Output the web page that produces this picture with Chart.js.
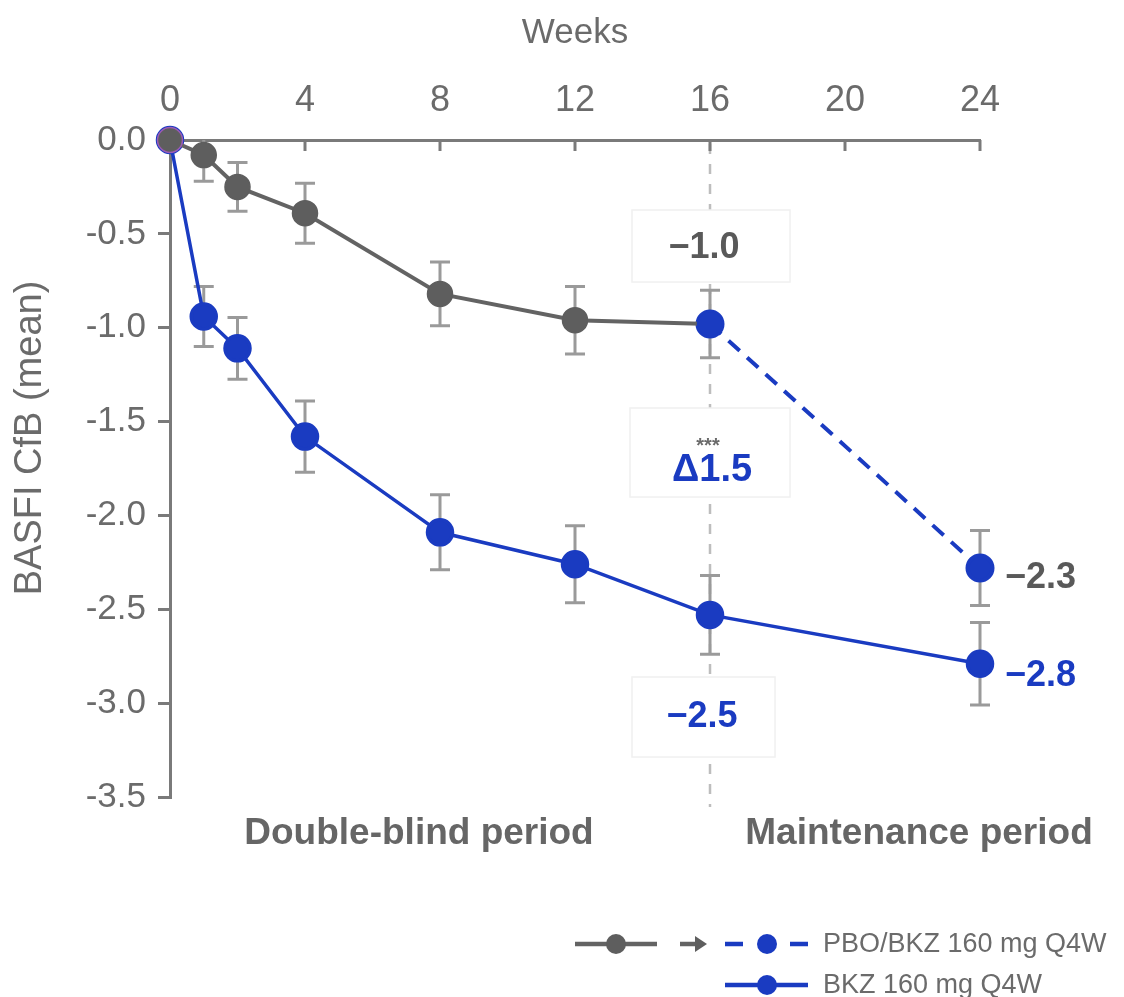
<!DOCTYPE html>
<html>
<head>
<meta charset="utf-8">
<script src="https://cdn.jsdelivr.net/npm/chart.js@4.4.1/dist/chart.umd.min.js"></script>
<style>
  html, body { margin: 0; padding: 0; background: #fff; }
  canvas { display: block; }
</style>
</head>
<body>
<canvas id="c" width="1124" height="997"></canvas>
<script>
// Week axis ticks and study visits
const weekTicks = [0, 4, 8, 12, 16, 20, 24];
const pboWeeks = [0, 1, 2, 4, 8, 12, 16];
const switchWeeks = [16, 24];
const bkzWeeks = [0, 1, 2, 4, 8, 12, 16, 24];

// Mean change from baseline in BASFI
const pboMean = [0, -0.08, -0.25, -0.39, -0.82, -0.96, -0.98];
const switchMean = [-0.98, -2.28];
const bkzMean = [0, -0.94, -1.11, -1.58, -2.09, -2.26, -2.53, -2.79];

// Half-length of the error bars
const pboErr = [0, 0.14, 0.13, 0.16, 0.17, 0.18, 0.18];
const switchErr = [null, 0.20];
const bkzErr = [0, 0.16, 0.165, 0.19, 0.20, 0.205, 0.21, 0.22];

const yTicks = [0, -0.5, -1.0, -1.5, -2.0, -2.5, -3.0, -3.5];

const seriesNames = ['PBO/BKZ 160 mg Q4W', 'BKZ 160 mg Q4W'];
const periodNames = ['Double-blind period', 'Maintenance period'];
const yTitle = 'BASFI CfB (mean)';

const BLUE = '#1a3bc1';
const GREY_LINE = '#636363';
const GREY_PT = '#5e5e5e';
const AXIS = '#7a7a7a';
const TXT = '#6b6b6b';
const FONT = '"Liberation Sans", Arial, Helvetica, sans-serif';

const toPts = (xs, ys) => xs.map((x, i) => ({ x, y: ys[i] }));
const fmt = v => (v < 0 ? '\u2212' : '') + Math.abs(v).toFixed(1);

const pboPointBg = pboWeeks.map((w, i) => i === pboWeeks.length - 1 ? BLUE : GREY_PT);
const pboPointBorder = pboWeeks.map((w, i) => i === 0 ? '#9c5bb5' : (i === pboWeeks.length - 1 ? BLUE : GREY_PT));

const errorBars = {
  id: 'errorBars',
  beforeDatasetsDraw(chart) {
    const { ctx, chartArea: ca, scales: { x, y } } = chart;
    // Week 16 divider between the two periods
    const x16 = x.getPixelForValue(16);
    ctx.save();
    ctx.strokeStyle = '#bdbdbd';
    ctx.lineWidth = 2.5;
    ctx.setLineDash([10, 10]);
    ctx.beginPath();
    ctx.moveTo(x16, ca.top + 4);
    ctx.lineTo(x16, ca.bottom + 10);
    ctx.stroke();
    ctx.setLineDash([]);

    // Faint label boxes that interrupt the divider
    const boxes = [
      [x16 - 78, 210, 158, 72],
      [x16 - 80, 408, 160, 89],
      [x16 - 78, 677, 143, 80]
    ];
    boxes.forEach(([bx, by, bw, bh]) => {
      ctx.fillStyle = '#ffffff';
      ctx.fillRect(bx, by, bw, bh);
      ctx.strokeStyle = '#f0f0f0';
      ctx.lineWidth = 1.5;
      ctx.strokeRect(bx, by, bw, bh);
    });

    // Inward tick marks on the top week axis
    ctx.strokeStyle = AXIS;
    ctx.lineWidth = 3;
    weekTicks.forEach(w => {
      if (w === 0) return;
      const px = x.getPixelForValue(w);
      ctx.beginPath();
      ctx.moveTo(px, ca.top);
      ctx.lineTo(px, ca.top + 11);
      ctx.stroke();
    });

    // Error bars, clipped to the plot area
    ctx.beginPath();
    ctx.rect(ca.left, ca.top, ca.right - ca.left + 30, ca.bottom - ca.top);
    ctx.clip();
    ctx.strokeStyle = '#9a9a9a';
    ctx.lineWidth = 3;
    const draw = (xs, ys, es) => {
      xs.forEach((w, i) => {
        const e = es[i];
        if (!e) return;
        const px = x.getPixelForValue(w);
        const top = y.getPixelForValue(ys[i] + e);
        const bot = y.getPixelForValue(ys[i] - e);
        ctx.beginPath();
        ctx.moveTo(px, top); ctx.lineTo(px, bot);
        ctx.moveTo(px - 10, top); ctx.lineTo(px + 10, top);
        ctx.moveTo(px - 10, bot); ctx.lineTo(px + 10, bot);
        ctx.stroke();
      });
    };
    draw(pboWeeks, pboMean, pboErr);
    draw(switchWeeks, switchMean, switchErr);
    draw(bkzWeeks, bkzMean, bkzErr);
    ctx.restore();
  },
  afterDatasetsDraw(chart) {
    const { ctx, chartArea: ca, scales: { x, y } } = chart;
    const x16 = x.getPixelForValue(16);
    const x24 = x.getPixelForValue(24);
    ctx.save();
    ctx.textBaseline = 'middle';

    // Vertical axis title
    ctx.save();
    ctx.translate(31, 438);
    ctx.rotate(-Math.PI / 2);
    ctx.textAlign = 'center';
    ctx.font = '38px ' + FONT;
    ctx.fillStyle = TXT;
    ctx.fillText(yTitle, 0, 0);
    ctx.restore();

    // Week 16 values and difference
    const p16 = pboMean[pboMean.length - 1];
    const b16 = bkzMean[bkzWeeks.indexOf(16)];
    const delta = Math.abs(Number(p16.toFixed(1)) - Number(b16.toFixed(1)));
    ctx.textAlign = 'center';
    ctx.font = 'bold 36px ' + FONT;
    ctx.fillStyle = '#595959';
    ctx.fillText(fmt(p16), x16 - 6, 248);
    ctx.font = 'bold 20px ' + FONT;
    ctx.fillStyle = '#6b6b6b';
    ctx.fillText('***', x16 - 2, 446);
    ctx.font = 'bold 38px ' + FONT;
    ctx.fillStyle = BLUE;
    ctx.fillText('\u0394' + delta.toFixed(1), x16 + 2, 471);
    ctx.font = 'bold 36px ' + FONT;
    ctx.fillText(fmt(b16), x16 - 8, 717);

    // Week 24 values
    ctx.textAlign = 'left';
    ctx.fillStyle = '#595959';
    ctx.fillText(fmt(switchMean[1]), x24 + 25, y.getPixelForValue(switchMean[1]) + 10);
    ctx.fillStyle = BLUE;
    ctx.fillText(fmt(bkzMean[bkzMean.length - 1]), x24 + 25, y.getPixelForValue(bkzMean[bkzMean.length - 1]) + 12);

    // Study period captions
    ctx.textAlign = 'center';
    ctx.font = 'bold 37px ' + FONT;
    ctx.fillStyle = '#666666';
    ctx.fillText(periodNames[0], (x.getPixelForValue(0) + x16) / 2 - 21, ca.bottom + 37);
    ctx.fillText(periodNames[1], (x16 + x24) / 2 + 74, ca.bottom + 37);

    // Legend
    const r1 = 944, r2 = 985;
    ctx.lineWidth = 4.5;
    ctx.strokeStyle = GREY_LINE;
    ctx.beginPath(); ctx.moveTo(575, r1); ctx.lineTo(657, r1); ctx.stroke();
    ctx.fillStyle = GREY_PT;
    ctx.beginPath(); ctx.arc(616, r1, 10, 0, Math.PI * 2); ctx.fill();
    ctx.beginPath(); ctx.moveTo(680, r1); ctx.lineTo(697, r1); ctx.stroke();
    ctx.beginPath(); ctx.moveTo(695, r1 - 8); ctx.lineTo(707, r1); ctx.lineTo(695, r1 + 8); ctx.closePath(); ctx.fill();
    ctx.strokeStyle = BLUE;
    ctx.fillStyle = BLUE;
    ctx.beginPath(); ctx.moveTo(725, r1); ctx.lineTo(743, r1); ctx.moveTo(790, r1); ctx.lineTo(808, r1); ctx.stroke();
    ctx.beginPath(); ctx.arc(767, r1, 10, 0, Math.PI * 2); ctx.fill();
    ctx.beginPath(); ctx.moveTo(725, r2); ctx.lineTo(808, r2); ctx.stroke();
    ctx.beginPath(); ctx.arc(767, r2, 10, 0, Math.PI * 2); ctx.fill();
    ctx.textAlign = 'left';
    ctx.font = '27px ' + FONT;
    ctx.fillStyle = TXT;
    ctx.fillText(seriesNames[0], 823, r1 + 1);
    ctx.fillText(seriesNames[1], 823, r2 + 1);
    ctx.restore();
  }
};

new Chart(document.getElementById('c'), {
  type: 'scatter',
  data: {
    datasets: [
      {
        label: 'PBO',
        data: toPts(pboWeeks, pboMean),
        showLine: true,
        borderColor: GREY_LINE,
        borderWidth: 4,
        pointRadius: 12.5,
        pointBackgroundColor: pboPointBg,
        pointBorderColor: pboPointBorder,
        pointBorderWidth: 1.5,
        tension: 0,
        clip: false
      },
      {
        label: seriesNames[0],
        data: toPts(switchWeeks, switchMean),
        showLine: true,
        borderColor: BLUE,
        borderWidth: 4,
        borderDash: [15, 10],
        pointRadius: 12.5,
        pointBackgroundColor: BLUE,
        pointBorderColor: BLUE,
        tension: 0,
        clip: false
      },
      {
        label: seriesNames[1],
        data: toPts(bkzWeeks, bkzMean),
        showLine: true,
        borderColor: BLUE,
        borderWidth: 3.5,
        pointRadius: 12.5,
        pointBackgroundColor: BLUE,
        pointBorderColor: BLUE,
        tension: 0,
        clip: false
      }
    ]
  },
  options: {
    responsive: false,
    animation: false,
    events: [],
    layout: { padding: { left: 0, top: 0, right: 144, bottom: 200 } },
    plugins: { legend: { display: false }, tooltip: { enabled: false } },
    scales: {
      x: {
        type: 'linear',
        position: 'top',
        min: 0,
        max: 24,
        afterBuildTicks: s => { s.ticks = weekTicks.map(v => ({ value: v })); },
        ticks: { font: { size: 36, family: FONT }, color: TXT, padding: 9, callback: v => String(v) },
        grid: { display: false },
        border: { display: true, color: AXIS, width: 3 },
        title: { display: true, text: 'Weeks', font: { size: 35, family: FONT }, color: TXT, padding: { top: 12, bottom: 4 } },
        afterFit: s => { s.height = 140; }
      },
      y: {
        min: -3.5,
        max: 0,
        afterBuildTicks: s => { s.ticks = yTicks.map(v => ({ value: v })); },
        ticks: { font: { size: 35, family: FONT }, color: TXT, padding: 12, callback: v => v.toFixed(1) },
        grid: { display: true, drawOnChartArea: false, drawTicks: true, tickLength: 12, color: AXIS, lineWidth: 3 },
        border: { display: true, color: AXIS, width: 3 },
        title: { display: false },
        afterFit: s => { s.width = 170; }
      }
    }
  },
  plugins: [errorBars]
});
</script>
</body>
</html>
